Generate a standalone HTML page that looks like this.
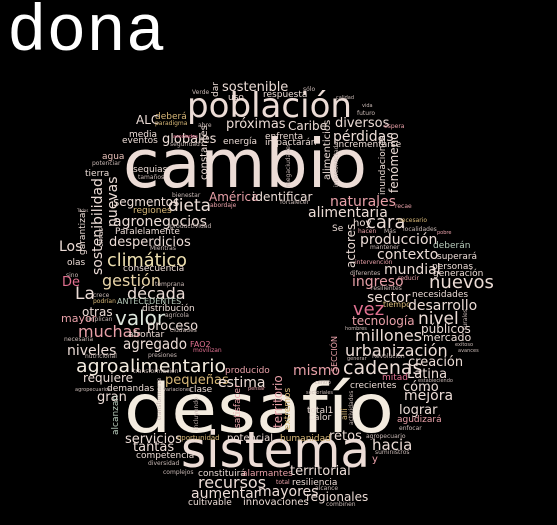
<!DOCTYPE html>
<html><head><meta charset="utf-8"><style>
html,body{margin:0;padding:0;background:#000;}
svg{display:block;}
svg text{font-family:"DejaVu Sans","Liberation Sans",sans-serif;}
svg text.title{font-family:"Liberation Mono","DejaVu Sans Mono",monospace;}
</style></head><body>
<svg id="cloud" width="557" height="525" viewBox="0 0 557 525" xmlns="http://www.w3.org/2000/svg">
<rect width="557" height="525" fill="#000"/>
<text class="title" x="7" y="50" font-size="66" fill="#ffffff">dona</text>
</svg>
<script>
const W='#ecdcd6',C='#f3ebdf',P='#e8a0a8',M='#e07090',G='#d8b878',Y='#eee0b0',Gr='#b8ccbc',D='#c8b8b4';
// [word, x, baselineY, fontSize, color, textLength(0=auto), vertical]
const words=[
['cambio',123,187,67,W,244,0],
['desafío',124,432,68,C,270,0],
['sistema',181,467,50,W,189,0],
['población',187,117,34,W,165,0],
['agroalimentario',76,372,18,C,150,0],
['sostenible',222,91,13,W,0,0],['uso',228,100,9,W,0,0],['respuesta',263,97,9,W,0,0],
['dar',218,97,9,W,0,1],['Verde',192,94,6,D,0,0],['deberá',155,119,9,G,0,0],
['ALC',136,124,12,W,0,0],['paradigma',155,125,6,G,0,0],['abre',198,127,6,D,0,0],
['próximas',226,128,13,W,0,0],['Caribe',288,130,12,W,0,0],['media',129,137,9,W,0,0],
['eventos',122,143,9,W,0,0],['globales',162,143,13,W,0,0],['seguridad',170,146,6,D,0,0],
['asociados',173,138,5,M,0,0],
['energía',223,144,9,W,0,0],['enfrenta',265,139,9,W,0,0],['impactarán',265,145,9,W,0,0],
['agua',102,159,9,'#e8c0b8',0,0],['potenciar',92,165,6,D,0,0],['tierra',85,176,9,W,0,0],
['sequias',133,172,9,W,0,0],['tamaños',138,179,6,D,0,0],
['constantes',207,180,10,W,0,1],['sostenibilidad',102,275,14,W,0,1],['nuevas',117,227,14,W,0,1],
['garantizar',85,255,9,W,0,1],['cifras',103,247,7,W,0,1],['Todas',77,212,4,D,0,0],
['segmentos',113,206,12,W,0,0],['regiones',133,213,9,G,0,0],['dieta',168,211,17,W,0,0],
['abordaje',210,207,6,P,0,0],['América',209,201,12,P,0,0],['identificar',252,201,12,W,0,0],
['bienestar',172,197,6,D,0,0],['fortalecer',280,204,6,D,0,0],['agronegocios',113,226,14,W,94,0],
['productividad',170,228,6,D,0,0],['Paralelamente',115,234,9,W,0,0],['desperdicios',109,246,13,W,0,0],
['Los',59,251,14,W,0,0],['Mientras',150,250,6,D,0,0],['olas',67,265,9,W,0,0],
['climático',107,266,17.5,Y,80,0],['consecuencia',123,271,9,W,0,0],['sino',66,277,6,D,0,0],
['De',62,286,13,M,0,0],['gestión',102,286,16,'#e8d4a8',0,0],['temprana',155,286,6,D,0,0],
['La',75,299,17,W,0,0],['crece',93,297,6,D,0,0],['década',127,299,16,W,0,0],
['podrían',93,303,6,G,0,0],['ANTECEDENTES',117,304,8,Gr,0,0],['distribución',142,311,9,W,0,0],
['otras',82,316,12,W,0,0],['agrícola',165,317,6,D,0,0],['mayor',61,322,11,P,0,0],
['implican',87,321,6,D,0,0],['valor',115,325,20,'#dde6dc',0,0],['proceso',147,330,13,W,0,0],
['ciudades',170,332,6,D,0,0],['muchas',78,337,16,P,0,0],['afrontar',128,337,9,W,0,0],
['necesaria',64,341,6,D,0,0],['agregado',123,349,15,W,64,0],['FAO2',190,347,8,M,0,0],
['movilizan',193,352,6,M,0,0],['niveles',67,355,14,W,0,0],['nutricional',85,358,6,D,0,0],
['presiones',148,357,6,D,0,0],['transformación',133,373,6,D,0,0],['producido',225,373,9,P,0,0],
['requiere',83,382,12,W,0,0],['pequeñas',165,384,13,G,0,0],['estima',218,387,14,W,0,0],
['demandas',107,391,9,W,0,0],['clase',189,392,9,W,0,0],['agropecuarios',75,391,5,D,0,0],
['variaciones',163,391,5,D,0,0],['pensar',248,390,5,P,0,0],['gran',97,401,13,W,0,0],
['alcanzan',118,435,9,Gr,0,1],['incluyendo',198,430,6,D,0,1],['transformarse',161,420,6,D,0,1],
['satisfacer',240,428,9,P,0,1],['territorio',282,428,12,P,0,1],['extremos',290,430,9,G,0,1],
['servicios',125,443,13,W,0,0],['oportunidad',177,440,7,G,0,0],['potencial',227,441,10,W,0,0],
['tantas',133,451,13,W,0,0],['competencia',136,458,9,W,0,0],['diversidad',148,465,6,D,0,0],
['complejos',163,474,6,D,0,0],['constituirá',198,476,9,W,0,0],['alarmantes',242,476,9,P,0,0],
['recursos',198,488,16,W,0,0],['aumentar',191,498,14,W,0,0],['mayores',258,496,14,W,0,0],
['cultivable',188,505,9,W,0,0],['innovaciones',243,505,10,W,0,0],
['sector',367,302,14,W,0,0],['necesidades',412,297,9,W,0,0],['vez',353,315,18,M,0,0],
['tiempo',383,307,8,G,0,0],['desarrollo',408,310,14,W,0,0],['rurales',467,330,6,D,0,1],
['tecnología',352,325,12,P,0,0],['nivel',418,324,17,W,0,0],['públicos',421,333,12,W,0,0],
['hombres',345,330,5,D,0,0],['millones',355,341,16,W,0,0],['mercado',423,341,11,W,0,0],
['exitoso',455,346,5,D,0,0],['avances',458,352,5,D,0,0],['SECCIÓN',337,372,8,P,0,1],
['urbanización',345,356,16,W,0,0],['generar',347,360,5,D,0,0],['Revolución',372,358,6,D,0,0],
['creación',408,366,13,W,0,0],['cadenas',343,374,19,W,0,0],['mismo',293,375,14,P,0,0],
['Latina',407,378,13,W,0,0],['mitad',382,380,9,M,0,0],['estableciendo',418,382,5,D,0,0],
['centró',315,384,5,D,0,0],['crecientes',350,388,9,W,0,0],['cómo',403,391,13,W,0,0],
['sectoriales',306,394,5,D,0,0],['mejora',404,400,14,W,0,0],['actividades',353,425,6,D,0,1],
['allí',347,420,8,G,0,1],['total1',307,413,9,W,0,0],['lograr',399,414,13,W,0,0],
['calor',309,420,9,W,0,0],['agudizará',397,422,9,P,0,0],['enfocar',399,430,6,D,0,0],
['humanidad',280,441,9,G,0,0],['retos',329,440,13,W,0,0],['agropecuario',366,438,6,D,0,0],
['hacia',372,450,15,W,0,0],['suministros',375,454,6,D,0,0],['y',372,462,10,P,0,0],
['territorial',290,475,13,W,0,0],['resiliencia',292,485,9,W,0,0],['total',276,484,6,P,0,0],
['alcance',315,490,6,D,0,0],['regionales',306,501,12,W,0,0],['combinen',326,506,6,D,0,0],
['sólo',303,91,6,D,0,0],['calidad',336,99,5,D,0,0],['vida',362,107,5,D,0,0],
['futuro',357,115,6,D,0,0],['diversos',335,127,13,W,0,0],['espera',384,128,6,P,0,0],
['pérdidas',333,141,14,W,0,0],['incrementarse',336,147,9,W,0,0],
['alimenticios',330,180,10,W,0,1],['interconectados',338,187,6,D,0,1],['megaciudades',290,187,6,D,0,1],
['inundaciones',385,195,9,W,0,1],['fenómeno',398,193,12,W,0,1],
['naturales',330,206,14,P,0,0],['recae',395,208,6,P,0,0],['alimentaria',308,217,14,W,0,0],
['hoy',353,226,10,W,0,0],['cara',366,228,18,W,0,0],['necesario',398,222,6,G,0,0],
['Se',332,231,9,W,0,0],['hacen',358,233,6,P,0,0],['Más',384,233,6,D,0,0],
['localidades',403,231,6,D,0,0],['pobre',437,234,5,P,0,0],['actores',355,268,12,W,0,1],
['producción',360,244,14,W,0,0],['deberán',433,248,9,Gr,0,0],['mantener',370,249,6,D,0,0],
['contexto',377,259,14,W,0,0],['superará',437,259,9,W,0,0],['intervención',355,264,6,P,0,0],
['diferentes',350,275,6,D,0,0],['mundial',384,274,14,W,0,0],['personas',432,269,9,W,0,0],
['generación',433,276,9,W,0,0],['ingreso',352,286,14,P,0,0],['reducir',398,280,6,P,0,0],
['resilientes',371,290,6,D,0,0],['nuevos',429,288,18,W,0,0]
];
const svg=document.getElementById('cloud');
const NS='http://www.w3.org/2000/svg';
function slug(s){return s.normalize('NFD').replace(/[\u0300-\u036f]/g,'').toLowerCase().replace(/[^a-z0-9]+/g,'-');}
for(const w of words){
  const t=document.createElementNS(NS,'text');
  t.textContent=w[0];
  t.setAttribute('font-size',w[3]);
  t.setAttribute('fill',w[4]);
  if(w[5]){t.setAttribute('textLength',w[5]);t.setAttribute('lengthAdjust','spacingAndGlyphs');}
  if(w[6]){t.setAttribute('x',0);t.setAttribute('y',0);t.setAttribute('transform','translate('+w[1]+','+w[2]+') rotate(-90)');}
  else{t.setAttribute('x',w[1]);t.setAttribute('y',w[2]);}
  
  
  svg.appendChild(t);
}
</script>
</body></html>
